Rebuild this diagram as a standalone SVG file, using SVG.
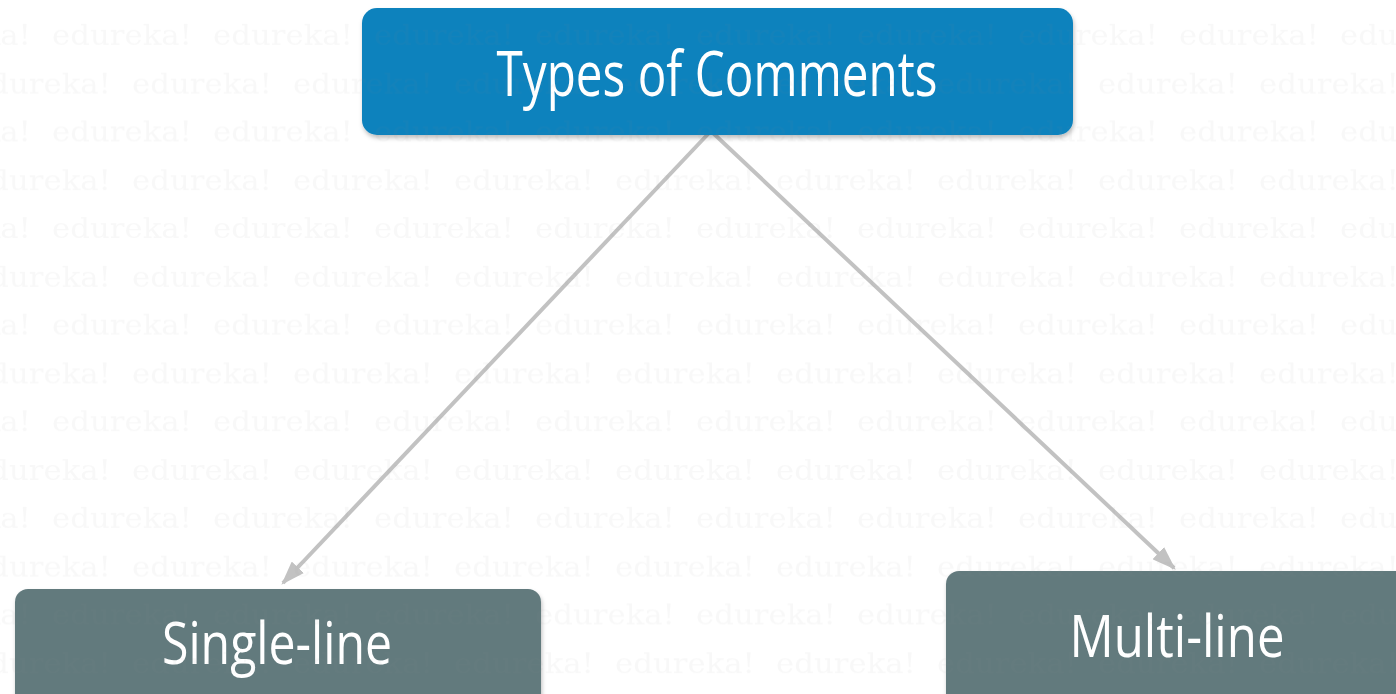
<svg xmlns="http://www.w3.org/2000/svg" width="1396" height="694" viewBox="0 0 1396 694">
  <defs>
    <style>
      .title { font-family: "Open Sans", "Noto Sans", sans-serif; fill: #ffffff; }
      .wm { font-family: "DejaVu Serif", "Liberation Serif", serif; font-size: 27px; fill: #8a8a8a; }
      .conn { stroke: #c2c2c2; stroke-width: 4; fill: none; }
    </style>
    <filter id="shadow" x="-5%" y="-10%" width="110%" height="130%">
      <feDropShadow dx="1" dy="3" stdDeviation="2" flood-color="#000000" flood-opacity="0.25"/>
    </filter>
    <marker id="arrow" viewBox="0 0 20 14" refX="18" refY="7" markerWidth="6" markerHeight="4.2" markerUnits="strokeWidth" orient="auto">
      <path d="M0,0 L20,7 L0,14 Z" fill="#c2c2c2"/>
    </marker>
    <pattern id="wmpat" patternUnits="userSpaceOnUse" x="0" y="0" width="161" height="96.6">
      <text class="wm" x="52" y="45" textLength="140" lengthAdjust="spacingAndGlyphs">edureka!</text>
      <text class="wm" x="-109" y="45" textLength="140" lengthAdjust="spacingAndGlyphs">edureka!</text>
      <text class="wm" x="132" y="93.3" textLength="140" lengthAdjust="spacingAndGlyphs">edureka!</text>
      <text class="wm" x="-29" y="93.3" textLength="140" lengthAdjust="spacingAndGlyphs">edureka!</text>
    </pattern>
  </defs>

  <rect x="0" y="0" width="1396" height="694" fill="#ffffff"/>

  <g id="connectors">
    <line class="conn" x1="709" y1="133" x2="283" y2="583" marker-end="url(#arrow)"/>
    <line class="conn" x1="713" y1="133" x2="1174" y2="568" marker-end="url(#arrow)"/>
  </g>

  <g id="node-types">
    <rect x="362" y="8" width="711" height="127" rx="15" fill="#0e82bd" filter="url(#shadow)"/>
    <text class="title" x="717" y="96" font-size="62" text-anchor="middle" textLength="441" lengthAdjust="spacingAndGlyphs">Types of Comments</text>
  </g>

  <g id="node-single">
    <rect x="15" y="589" width="526" height="125" rx="13" fill="#627a7d" filter="url(#shadow)"/>
    <text class="title" x="277" y="664" font-size="58" text-anchor="middle" textLength="230" lengthAdjust="spacingAndGlyphs">Single-line</text>
  </g>

  <g id="node-multi">
    <rect x="946" y="571" width="470" height="143" rx="13" fill="#627a7d" filter="url(#shadow)"/>
    <text class="title" x="1177" y="657" font-size="58" text-anchor="middle" textLength="215" lengthAdjust="spacingAndGlyphs">Multi-line</text>
  </g>

  <rect x="0" y="0" width="1396" height="694" fill="url(#wmpat)" opacity="0.06" pointer-events="none"/>
</svg>
